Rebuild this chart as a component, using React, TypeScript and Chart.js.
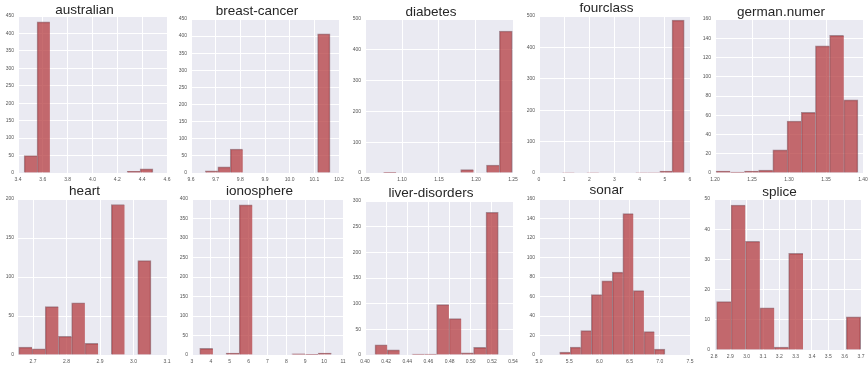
import React, { useEffect, useRef } from "react";
import { Chart, registerables } from "chart.js";

Chart.register(...registerables);

const FONT = "'Liberation Sans', Arial, Helvetica, sans-serif";

// ---- data: bin edges, counts, x tick labels per panel ----
const australianEdges = [3.449, 3.553, 3.657, 3.76, 3.864, 3.968, 4.072, 4.176, 4.279, 4.383, 4.487];
const australianCounts = [50, 433, 0, 0, 0, 0, 0, 0, 5, 12];
const australianXTicks = [3.4, 3.6, 3.8, 4.0, 4.2, 4.4, 4.6];

const breastEdges = [9.658, 9.709, 9.759, 9.81, 9.86, 9.911, 9.962, 10.012, 10.063, 10.113, 10.164];
const breastCounts = [6, 18, 70, 0, 0, 0, 0, 0, 0, 407];
const breastXTicks = [9.6, 9.7, 9.8, 9.9, 10.0, 10.1, 10.2];

const diabetesEdges = [1.0747, 1.0921, 1.1096, 1.127, 1.1444, 1.1619, 1.1793, 1.1967, 1.2141, 1.2316, 1.249];
const diabetesCounts = [2, 0, 0, 0, 0, 0, 11, 0, 26, 461];
const diabetesXTicks = [1.05, 1.1, 1.15, 1.2, 1.25];

const fourclassEdges = [0.92, 1.405, 1.89, 2.375, 2.86, 3.345, 3.83, 4.315, 4.8, 5.285, 5.77];
const fourclassCounts = [1, 0, 1, 0, 0, 0, 1, 1, 6, 487];
const fourclassXTicks = [0, 1, 2, 3, 4, 5, 6];

const germanEdges = [1.2014, 1.2206, 1.2398, 1.259, 1.2781, 1.2973, 1.3165, 1.3357, 1.3549, 1.374, 1.3932];
const germanCounts = [2, 1, 2, 3, 24, 54, 63, 132, 143, 76];
const germanXTicks = [1.2, 1.25, 1.3, 1.35, 1.4];

const heartEdges = [2.657, 2.697, 2.736, 2.776, 2.815, 2.855, 2.894, 2.934, 2.973, 3.013, 3.052];
const heartCounts = [10, 8, 62, 24, 67, 15, 0, 193, 0, 121];
const heartXTicks = [2.7, 2.8, 2.9, 3.0, 3.1];

const ionosphereEdges = [3.41, 4.107, 4.804, 5.501, 6.198, 6.895, 7.592, 8.289, 8.986, 9.683, 10.38];
const ionosphereCounts = [17, 1, 5, 385, 0, 0, 1, 3, 2, 5];
const ionosphereXTicks = [3, 4, 5, 6, 7, 8, 9, 10, 11];

const liverEdges = [0.4094, 0.4211, 0.4327, 0.4444, 0.4561, 0.4677, 0.4794, 0.4911, 0.5027, 0.5144, 0.5261];
const liverCounts = [20, 10, 0, 2, 2, 98, 71, 4, 15, 278];
const liverXTicks = [0.4, 0.42, 0.44, 0.46, 0.48, 0.5, 0.52, 0.54];

const sonarEdges = [5.343, 5.517, 5.691, 5.866, 6.04, 6.214, 6.388, 6.562, 6.737, 6.911, 7.085];
const sonarCounts = [3, 8, 25, 62, 76, 85, 145, 66, 24, 6];
const sonarXTicks = [5.0, 5.5, 6.0, 6.5, 7.0, 7.5];

const spliceEdges = [2.816, 2.904, 2.992, 3.081, 3.169, 3.257, 3.345, 3.433, 3.522, 3.61, 3.698];
const spliceCounts = [16, 48, 36, 14, 1, 32, 0, 0, 0, 11];
const spliceXTicks = [2.8, 2.9, 3.0, 3.1, 3.2, 3.3, 3.4, 3.5, 3.6, 3.7];

type PanelDef = {
  title: string;
  edges: number[];
  counts: number[];
  xTicks: number[];
  xMin: number;
  xMax: number;
  xDec: number;
  yMax: number;
  yStep: number;
  L: number;
  T: number;
  R: number;
  B: number;
  tc: number;
};

const panels: PanelDef[] = [
  { title: "australian", edges: australianEdges, counts: australianCounts, xTicks: australianXTicks, xMin: 3.4, xMax: 4.6, xDec: 1, yMax: 450, yStep: 50, L: 18, T: 16, R: 167, B: 173, tc: 10.3 },
  { title: "breast-cancer", edges: breastEdges, counts: breastCounts, xTicks: breastXTicks, xMin: 9.6, xMax: 10.2, xDec: 1, yMax: 450, yStep: 50, L: 191, T: 19, R: 339, B: 173, tc: 11.3 },
  { title: "diabetes", edges: diabetesEdges, counts: diabetesCounts, xTicks: diabetesXTicks, xMin: 1.05, xMax: 1.25, xDec: 2, yMax: 500, yStep: 100, L: 365, T: 19, R: 513, B: 173, tc: 12.3 },
  { title: "fourclass", edges: fourclassEdges, counts: fourclassCounts, xTicks: fourclassXTicks, xMin: 0, xMax: 6, xDec: 0, yMax: 500, yStep: 100, L: 539, T: 16, R: 690, B: 173, tc: 8.3 },
  { title: "german.numer", edges: germanEdges, counts: germanCounts, xTicks: germanXTicks, xMin: 1.2, xMax: 1.4, xDec: 2, yMax: 160, yStep: 20, L: 715, T: 19, R: 863, B: 173, tc: 12.3 },
  { title: "heart", edges: heartEdges, counts: heartCounts, xTicks: heartXTicks, xMin: 2.655, xMax: 3.1, xDec: 1, yMax: 200, yStep: 50, L: 18, T: 199, R: 167, B: 355, tc: 191.3 },
  { title: "ionosphere", edges: ionosphereEdges, counts: ionosphereCounts, xTicks: ionosphereXTicks, xMin: 3, xMax: 11, xDec: 0, yMax: 400, yStep: 50, L: 192, T: 199, R: 343, B: 355, tc: 191.3 },
  { title: "liver-disorders", edges: liverEdges, counts: liverCounts, xTicks: liverXTicks, xMin: 0.4, xMax: 0.54, xDec: 2, yMax: 300, yStep: 50, L: 365, T: 201, R: 513, B: 355, tc: 193.3 },
  { title: "sonar", edges: sonarEdges, counts: sonarCounts, xTicks: sonarXTicks, xMin: 5.0, xMax: 7.5, xDec: 1, yMax: 160, yStep: 20, L: 539, T: 199, R: 690, B: 355, tc: 190.3 },
  { title: "splice", edges: spliceEdges, counts: spliceCounts, xTicks: spliceXTicks, xMin: 2.8, xMax: 3.7, xDec: 1, yMax: 50, yStep: 10, L: 714, T: 199, R: 861, B: 350, tc: 192 },
];

const bgPlugin = {
  id: "plotBg",
  beforeDraw(chart: any) {
    const { ctx, chartArea: a } = chart;
    ctx.save();
    ctx.fillStyle = "#EAEAF2";
    ctx.fillRect(a.left, a.top, a.right - a.left, a.bottom - a.top);
    ctx.restore();
  },
};

const Y_W = 16;
const PAD_R = 8;
const X_H = 14;
const TITLE_SIZE = 13.5;
const TITLE_LH = 0.8;

function Panel({ p }: { p: PanelDef }) {
  const ref = useRef<HTMLCanvasElement | null>(null);
  const lh = TITLE_SIZE * TITLE_LH;
  const cLeft = p.L - Y_W;
  const cTop = Math.round(p.tc - lh / 2);
  const w = p.R - cLeft + PAD_R;
  const h = p.B - cTop + X_H;
  const padBottom = p.T - cTop - lh;

  useEffect(() => {
    if (!ref.current) return;
    const n = p.counts.length;
    const data = p.counts.map((c, i) => ({ x: (p.edges[i] + p.edges[i + 1]) / 2, y: c }));
    const tickFont = { family: FONT, size: 5 };
    const chart = new Chart(ref.current, {
      type: "bar",
      data: {
        datasets: [
          {
            data,
            backgroundColor: "rgba(180,60,64,0.75)",
            borderColor: "rgba(115,70,80,0.6)",
            borderWidth: (ctx: any) => ({ top: 1, left: 1, right: ctx.dataIndex === n - 1 ? 1 : 0, bottom: 0 }),
            barPercentage: 1,
            categoryPercentage: 1,
          } as any,
        ],
      },
      options: {
        responsive: false,
        animation: false,
        devicePixelRatio: 1,
        layout: { padding: { left: 0, right: PAD_R, top: 0, bottom: 0 } },
        plugins: {
          legend: { display: false },
          tooltip: { enabled: false },
          title: {
            display: true,
            text: p.title,
            color: "#262626",
            font: { family: FONT, size: TITLE_SIZE, lineHeight: TITLE_LH, weight: "normal" },
            padding: { top: 0, bottom: padBottom },
          },
        },
        scales: {
          x: {
            type: "linear",
            min: p.xMin,
            max: p.xMax,
            offset: false,
            grid: { color: "#ffffff", lineWidth: 1, drawTicks: false, offset: false },
            border: { display: false },
            ticks: {
              font: tickFont,
              color: "#555555",
              padding: 4,
              maxRotation: 0,
              autoSkip: false,
              callback: (v: any) => Number(v).toFixed(p.xDec),
            },
            afterBuildTicks: (s: any) => {
              s.ticks = p.xTicks.map((v) => ({ value: v }));
            },
            afterFit: (s: any) => {
              s.height = X_H;
              s.paddingLeft = 0;
              s.paddingRight = 0;
            },
          },
          y: {
            type: "linear",
            min: 0,
            max: p.yMax,
            grid: { color: "#ffffff", lineWidth: 1, drawTicks: false },
            border: { display: false },
            ticks: {
              stepSize: p.yStep,
              font: tickFont,
              color: "#555555",
              padding: 4,
              callback: (v: any) => String(v),
            },
            afterFit: (s: any) => {
              s.width = Y_W;
              s.paddingTop = 0;
              s.paddingBottom = 0;
            },
          },
        },
      } as any,
      plugins: [bgPlugin],
    });
    return () => chart.destroy();
  }, []);

  return (
    <canvas
      ref={ref}
      width={w}
      height={h}
      style={{ position: "absolute", left: cLeft, top: cTop, width: w, height: h }}
    />
  );
}

export default function App() {
  return (
    <div
      style={{
        position: "fixed",
        left: 0,
        top: 0,
        width: 868,
        height: 370,
        background: "#ffffff",
        overflow: "hidden",
      }}
    >
      {panels.map((p) => (
        <Panel key={p.title} p={p} />
      ))}
    </div>
  );
}
